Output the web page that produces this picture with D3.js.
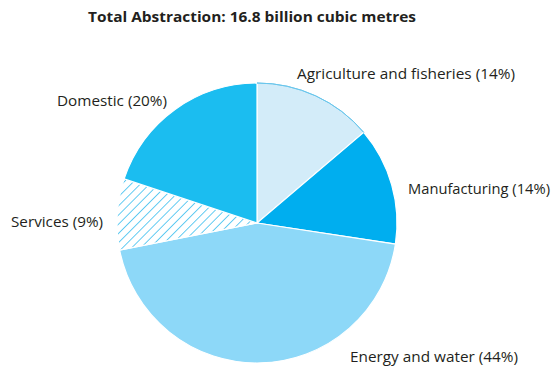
<!DOCTYPE html>
<html><head><meta charset="utf-8">
<script src="https://cdn.jsdelivr.net/npm/d3@7"></script>
<style>body{margin:0;background:#fff}svg{display:block}</style>
</head><body>
<svg id="c" width="559" height="369"></svg>
<script>
const title = "Total Abstraction: 16.8 billion cubic metres";
const categories = ["Agriculture and fisheries", "Manufacturing", "Energy and water", "Services", "Domestic"];
const labelPct = ["14%", "14%", "44%", "9%", "20%"];
const values = [13.8, 13.6, 44.5, 8.2, 19.9];
const colors = ["#d3ecf9", "#00aeef", "#8dd8f8", "url(#hatch)", "#1bbdf0"];

const svg = d3.select("#c");
const defs = svg.append("defs");
const pat = defs.append("pattern").attr("id","hatch").attr("patternUnits","userSpaceOnUse")
  .attr("width",6.5).attr("height",6.5).attr("patternTransform","rotate(45)");
pat.append("rect").attr("width",6.5).attr("height",6.5).attr("fill","#fff");
pat.append("line").attr("x1",0).attr("y1",0).attr("x2",0).attr("y2",6.5).attr("stroke","#3dbfef").attr("stroke-width",1.6);

const font = "'Myriad Pro','Open Sans',sans-serif";
svg.append("text").attr("x",252).attr("y",22).attr("text-anchor","middle")
  .attr("font-family",font).attr("font-weight","bold").attr("font-size",15).attr("fill","#231f20")
  .attr("textLength",328).attr("lengthAdjust","spacingAndGlyphs").text(title);

const cx=257, cy=223, r=140;
const pie = d3.pie().sort(null).value(d=>d);
const arc = d3.arc().innerRadius(0).outerRadius(r);
const g = svg.append("g").attr("transform",`translate(${cx},${cy})`);
const arcs = pie(values);
g.selectAll("path").data(arcs).join("path")
  .attr("d",arc).attr("fill",(d,i)=>colors[i]).attr("stroke","#fff").attr("stroke-width",1.2);
g.append("path").attr("d", d3.arc().innerRadius(r).outerRadius(r)(arcs[0]))
  .attr("fill","none").attr("stroke","#6ac6ec").attr("stroke-width",1);

const labelPos = [[297,79,"start",218],[408,194,"start",142],[350,362,"start",168],[103,227,"end",92],[167,106,"end",110]];
svg.selectAll("text.lab").data(categories).join("text").attr("class","lab")
  .attr("x",(d,i)=>labelPos[i][0]).attr("y",(d,i)=>labelPos[i][1])
  .attr("text-anchor",(d,i)=>labelPos[i][2])
  .attr("font-family",font).attr("font-size",15).attr("fill","#231f20")
  .attr("textLength",(d,i)=>labelPos[i][3]).attr("lengthAdjust","spacingAndGlyphs")
  .text((d,i)=>`${d} (${labelPct[i]})`);
</script>
</body></html>
